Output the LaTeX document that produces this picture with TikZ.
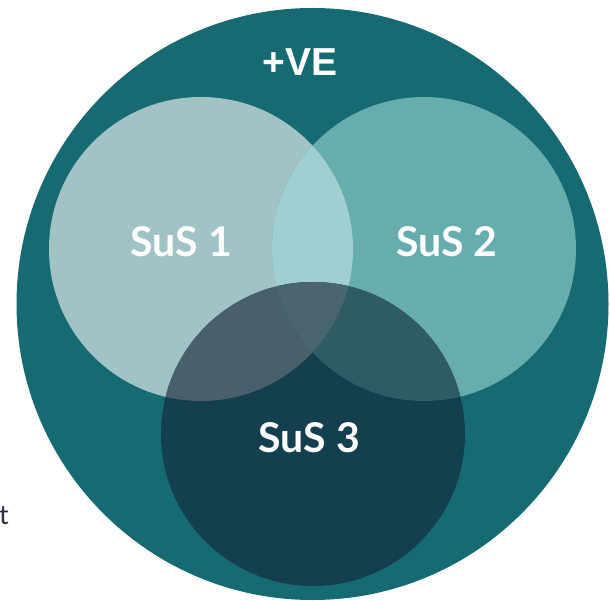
\documentclass[tikz,border=0pt]{standalone}
\usepackage{fontspec}
\newfontfamily\lato{Lato}
\newfontfamily\arialfont{Liberation Sans}
\definecolor{outerc}{HTML}{166B72}
\definecolor{cone}{HTML}{A1C3C6}
\definecolor{ctwo}{HTML}{68ADAE}
\definecolor{cthree}{HTML}{143F4E}
\definecolor{conetwo}{HTML}{9FCFD0}
\definecolor{conethree}{HTML}{48606B}
\definecolor{ctwothree}{HTML}{2E5B64}
\definecolor{call}{HTML}{486570}
\definecolor{navy}{HTML}{2A2F45}
\tikzset{
  lbl/.style={text=white, font=\lato\bfseries\fontsize{41}{43}\selectfont, inner sep=0pt},
  toplbl/.style={text=white, font=\arialfont\bfseries\fontsize{39}{41}\selectfont, inner sep=0pt}
}
\begin{document}
\begin{tikzpicture}[x=1pt,y=1pt]
\useasboundingbox (0,0) rectangle (610,600);
\clip (0,0) rectangle (610,600);
\fill[white] (0,0) rectangle (610,600);
% outer circle
\fill[outerc] (312.5,296) circle (296);
% three circles
\fill[cone] (201,351) circle (152);
\fill[ctwo] (424,351) circle (152);
\fill[cthree] (313,166) circle (152);
% pairwise intersections
\begin{scope}
  \clip (201,351) circle (152);
  \fill[conetwo] (424,351) circle (152);
\end{scope}
\begin{scope}
  \clip (201,351) circle (152);
  \fill[conethree] (313,166) circle (152);
\end{scope}
\begin{scope}
  \clip (424,351) circle (152);
  \fill[ctwothree] (313,166) circle (152);
\end{scope}
\begin{scope}
  \clip (201,351) circle (152);
  \clip (424,351) circle (152);
  \fill[call] (313,166) circle (152);
\end{scope}
% labels
\node[toplbl] (ve) at (300,538) {+VE};
\node[lbl] (s1) at (181.5,358) {SuS 1};
\node[lbl] (s2) at (447,358) {SuS 2};
\node[lbl] (s3) at (309.5,162.5) {SuS 3};
\node[text=navy, font=\lato\fontsize{27}{29}\selectfont, inner sep=0pt, anchor=base west] (t) at (-1,76) {t};
\end{tikzpicture}
\end{document}
